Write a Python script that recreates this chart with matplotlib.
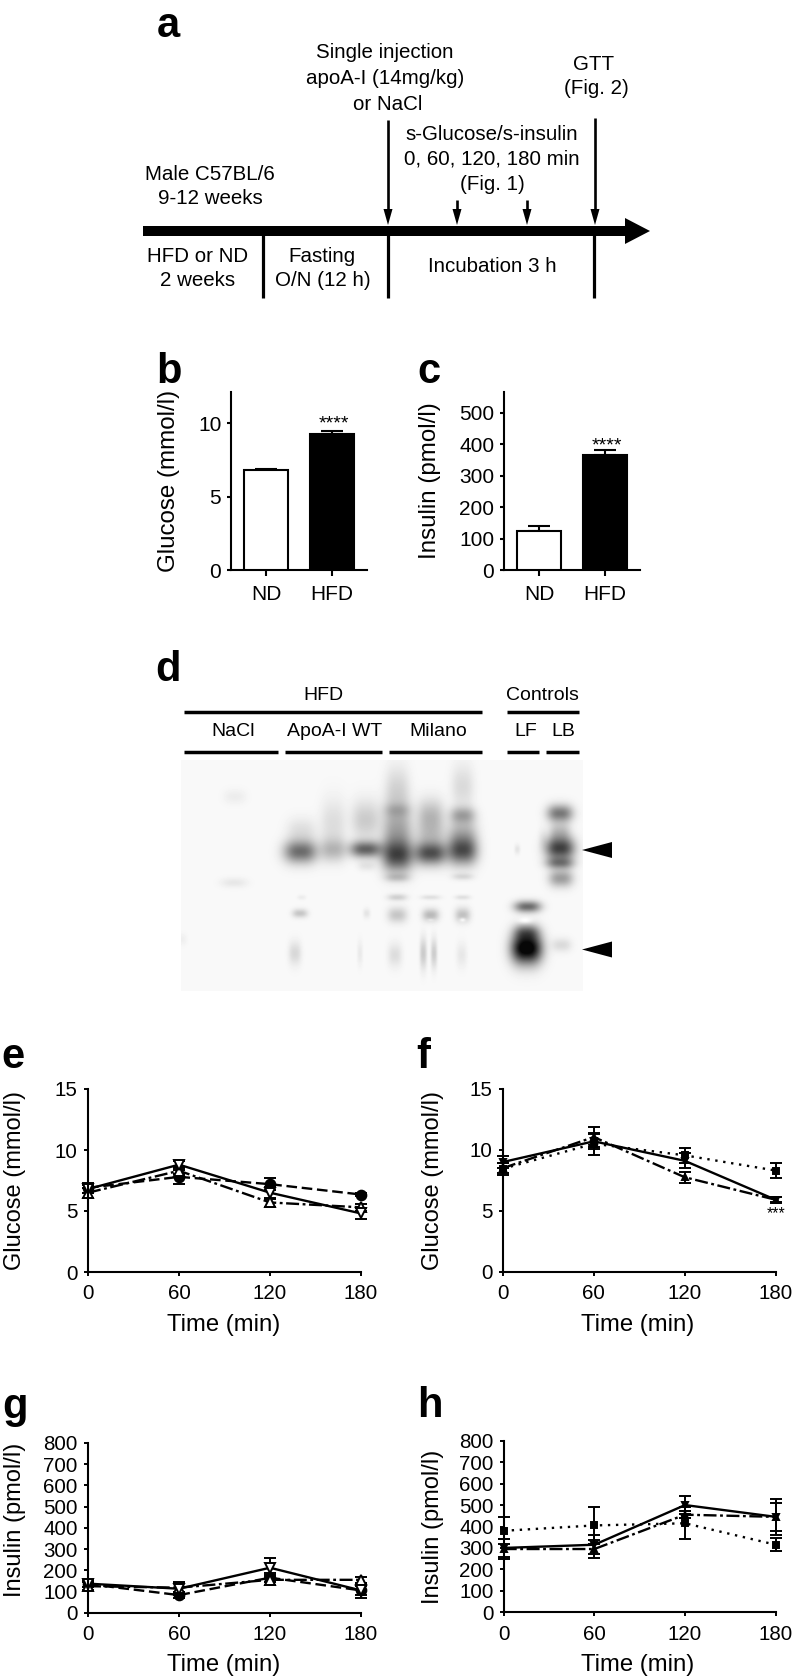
import numpy as np
import matplotlib
matplotlib.use("Agg")
import matplotlib.pyplot as plt
from matplotlib.patches import Polygon

plt.rcParams["font.family"] = ["Liberation Sans", "DejaVu Sans"]

W, H = 794, 1679

# bars
bar_labels = ["ND", "HFD"]
glucose_bar = [6.8, 9.3]
glucose_err = [0.1, 0.2]
insulin_bar = [126, 365]
insulin_err = [14, 17]

# time courses
times = [0, 60, 120, 180]
e_solid = [6.8, 8.8, 6.5, 4.8]
e_solid_err = [0.3, 0.3, 0.5, 0.45]
e_dash = [6.9, 7.8, 7.2, 6.35]
e_dash_err = [0.4, 0.6, 0.5, 0.1]
e_dashdot = [6.5, 8.3, 5.7, 5.3]
e_dashdot_err = [0.4, 0.3, 0.4, 0.3]

f_solid = [9.0, 10.7, 9.1, 5.9]
f_solid_err = [0.5, 0.6, 0.6, 0.25]
f_dashdot = [8.5, 11.05, 7.75, 5.9]
f_dashdot_err = [0.4, 0.8, 0.45, 0.2]
f_dot = [8.45, 10.5, 9.55, 8.3]
f_dot_err = [0.5, 0.9, 0.6, 0.65]

g_solid = [137, 113, 212, 105]
g_solid_err = [15, 30, 45, 35]
g_dash = [135, 83, 165, 105]
g_dash_err = [15, 15, 20, 20]
g_dashdot = [125, 118, 155, 155]
g_dashdot_err = [20, 20, 25, 15]

h_solid = [300, 315, 500, 445]
h_solid_err = [40, 45, 40, 85]
h_dashdot = [295, 295, 455, 445]
h_dashdot_err = [45, 40, 15, 65]
h_dot = [380, 405, 415, 315]
h_dot_err = [63, 85, 75, 30]

# blot bands: x, y, half width, half height, darkness (zoomed crop units)
blot_bands = [
    (225, 50, 32, 15, .05), (222, 308, 38, 10, .07), (65, 478, 15, 12, .04),
    (422, 215, 48, 24, .55), (425, 150, 42, 25, .10), (420, 400, 22, 9, .20),
    (405, 520, 18, 24, .13), (425, 352, 12, 5, .05),
    (520, 210, 36, 24, .24), (520, 130, 36, 50, .11),
    (617, 208, 45, 17, .58), (617, 120, 40, 40, .18), (620, 258, 25, 10, .08), (620, 400, 10, 10, .08), (600, 520, 8, 25, .06),
    (712, 228, 44, 32, .58), (712, 150, 42, 60, .33), (712, 90, 38, 14, .12), (712, 20, 34, 45, .12),
    (712, 293, 35, 9, .16), (712, 352, 28, 7, .16), (712, 405, 28, 16, .20), (705, 525, 20, 24, .11),
    (812, 220, 46, 24, .66), (812, 110, 38, 35, .26), (812, 165, 42, 25, .14), (812, 405, 24, 13, .25), (812, 352, 28, 5, .10), (790, 520, 10, 32, .18), (822, 520, 9, 30, .17),
    (908, 215, 42, 28, .58), (908, 105, 36, 17, .28), (908, 165, 42, 35, .28), (908, 20, 32, 45, .12), (908, 290, 30, 7, .12), (908, 352, 22, 5, .10), (908, 405, 22, 15, .22), (905, 525, 15, 25, .07),
    (1100, 505, 44, 32, 1.05), (1100, 455, 36, 16, .35), (1103, 380, 38, 12, .55), (1072, 208, 8, 10, .08),
    (1200, 205, 42, 24, .72), (1200, 100, 37, 18, .50), (1200, 250, 40, 12, .40), (1203, 295, 35, 18, .36), (1200, 155, 30, 20, .20), (1205, 495, 28, 14, .12), (1148, 175, 12, 22, .05),
]
blot_holes = [(1095, 420, 22, 9, .95), (908, 420, 9, 6, .8), (812, 420, 10, 4, .4)]

fig = plt.figure(figsize=(W / 100, H / 100), dpi=100)


def px_axes(left, right, top, bottom):
    ax = fig.add_axes([left / W, 1 - bottom / H, (right - left) / W, (bottom - top) / H])
    ax.set_facecolor("none")
    ax.spines["top"].set_visible(False)
    ax.spines["right"].set_visible(False)
    ax.spines["left"].set_linewidth(1.5)
    ax.spines["bottom"].set_linewidth(1.5)
    return ax


def set_labels(ax, box, ylabel, ylab_x, ylab_y, xlabel=None, xlab_y=None, xlab_x=None, ysize=17):
    left, right, top, bottom = box
    ax.set_ylabel(ylabel, fontsize=ysize, va="center")
    ax.yaxis.set_label_coords((ylab_x - left) / (right - left), (bottom - ylab_y) / (bottom - top))
    if xlabel:
        ax.set_xlabel(xlabel, fontsize=17.2, va="center")
        ax.xaxis.set_label_coords((xlab_x - left) / (right - left), (bottom - xlab_y) / (bottom - top))


def bar_panel(box, vals, errs, ylim, yticks, ylabel, ylab_x):
    ax = px_axes(*box)
    ax.bar([1, 2], vals, width=0.68, color=["white", "black"], edgecolor="black", linewidth=1.5, zorder=3)
    ax.errorbar([1, 2], vals, yerr=[[0, 0], errs], fmt="none", ecolor="black", elinewidth=1.5,
                capsize=8, capthick=1.5, zorder=2)
    ax.set_xlim(0.47, 2.53)
    ax.set_ylim(*ylim)
    ax.set_xticks([1, 2], bar_labels)
    ax.set_yticks(yticks)
    ax.tick_params(axis="y", length=3, width=1.5, labelsize=15, pad=4)
    ax.tick_params(axis="x", length=4.5, width=1.5, labelsize=15, pad=6)
    set_labels(ax, box, ylabel, ylab_x, 481, ysize=17.4)
    return ax


def line_panel(box, series, ylim, yticks, ylabel, ylab_x, ylab_y, xlab_x, xlab_y):
    ax = px_axes(*box)
    for vals, errs, ls, marker, ms, mfc in series:
        ax.errorbar(times, vals, yerr=errs, color="black", lw=1.7, ls=ls, marker=marker, ms=ms,
                    mfc=mfc, mec="black", mew=1.4, elinewidth=1.4, capsize=4, capthick=1.4, clip_on=False)
    ax.set_xlim(0, 180)
    ax.set_ylim(*ylim)
    ax.set_xticks(times)
    ax.set_yticks(yticks)
    ax.tick_params(axis="both", length=2.8, width=1.4, labelsize=14.8)
    ax.tick_params(axis="y", pad=4.5)
    ax.tick_params(axis="x", pad=6)
    set_labels(ax, box, ylabel, ylab_x, ylab_y, "Time (min)", xlab_y, xlab_x)
    return ax


DASH = (0, (4.5, 2))
DASHDOT = (0, (5.5, 1.5, 1.2, 1.5))
DOT = (0, (1, 2.4))

# panels b, c
bar_panel((231, 367, 392, 570.3), glucose_bar, glucose_err, (0, 12.13), [0, 5, 10], "Glucose (mmol/l)", 169)
bar_panel((504, 640, 392, 570.3), insulin_bar, insulin_err, (0, 566), [0, 100, 200, 300, 400, 500], "Insulin (pmol/l)", 430)

# panels e-h
line_panel((88, 361, 1089, 1272),
           [(e_dash, e_dash_err, DASH, "o", 7, "black"),
            (e_dashdot, e_dashdot_err, DASHDOT, "^", 7, "white"),
            (e_solid, e_solid_err, "-", "v", 7, "white")],
           (0, 15), [0, 5, 10, 15], "Glucose (mmol/l)", 15, 1180, 224, 1325)
line_panel((503, 775.5, 1089, 1271.5),
           [(f_dot, f_dot_err, DOT, "s", 5, "black"),
            (f_dashdot, f_dashdot_err, DASHDOT, "^", 4.5, "black"),
            (f_solid, f_solid_err, "-", "v", 4.5, "black")],
           (0, 15), [0, 5, 10, 15], "Glucose (mmol/l)", 433, 1180, 638, 1325)
line_panel((88, 361, 1443, 1612.7),
           [(g_dash, g_dash_err, DASH, "o", 7, "black"),
            (g_dashdot, g_dashdot_err, DASHDOT, "^", 7, "white"),
            (g_solid, g_solid_err, "-", "v", 7, "white")],
           (0, 800), range(0, 801, 100), "Insulin (pmol/l)", 15, 1520, 224, 1665)
line_panel((503.7, 775.7, 1440.7, 1612.3),
           [(h_dot, h_dot_err, DOT, "s", 5, "black"),
            (h_dashdot, h_dashdot_err, DASHDOT, "^", 4.5, "black"),
            (h_solid, h_solid_err, "-", "v", 4.5, "black")],
           (0, 800), range(0, 801, 100), "Insulin (pmol/l)", 433, 1527, 638, 1665)

# blot image
blot_left, blot_right, blot_top, blot_bottom = 181, 583, 760, 991
ax_blot = fig.add_axes([blot_left / W, 1 - blot_bottom / H, (blot_right - blot_left) / W, (blot_bottom - blot_top) / H])
yy, xx = np.mgrid[blot_top:blot_bottom, blot_left:blot_right] + 0.5
dark = np.full(xx.shape, 0.025)
for bx, by, sx, sy, amp in blot_bands:
    px, py = 160 + bx / 3, 780 + by / 3
    dark += amp * np.exp(-(np.abs(xx - px) / (sx / 3 * 1.05)) ** 2.6 - ((yy - py) / (sy / 3 * 1.45)) ** 2)
for bx, by, sx, sy, amp in blot_holes:
    px, py = 160 + bx / 3, 780 + by / 3
    dark *= 1 - amp * np.exp(-((xx - px) / (sx / 3)) ** 2 - ((yy - py) / (sy / 3)) ** 2)
ax_blot.imshow(1 - np.clip(dark, 0, 0.97), cmap="gray", vmin=0, vmax=1, aspect="auto", interpolation="bilinear")
ax_blot.axis("off")

# overlay in picture pixels for the schematic and letters
ov = fig.add_axes([0, 0, 1, 1], facecolor="none")
ov.set_xlim(0, W)
ov.set_ylim(H, 0)
ov.axis("off")

for letter, lx, ly in [("a", 157, 37), ("b", 156, 383), ("c", 417, 383), ("d", 155, 681),
                       ("e", 1, 1068), ("f", 416, 1068), ("g", 2, 1418), ("h", 417, 1417)]:
    ov.text(lx, ly, letter, fontsize=30, fontweight="bold", ha="left", va="baseline")

# timeline
ov.plot([143, 628], [231, 231], color="black", lw=7.2, solid_capstyle="butt")
ov.add_patch(Polygon([(625, 218), (650, 231), (625, 244)], closed=True, color="black", lw=0))
for tx in [263, 388, 594]:
    ov.plot([tx, tx], [231, 298], color="black", lw=2.3, solid_capstyle="butt")
for tx, y0 in [(388, 120), (595, 118), (457, 200), (527, 200)]:
    ov.plot([tx, tx], [y0, 212], color="black", lw=1.9, solid_capstyle="butt")
    ov.add_patch(Polygon([(tx - 4.5, 209), (tx, 225), (tx + 4.5, 209)], closed=True, color="black", lw=0))

schematic = [("Single injection", 385, 53), ("apoA-I (14mg/kg)", 385, 79), ("or NaCl", 388, 104),
             ("GTT", 594, 64), ("(Fig. 2)", 596, 89),
             ("s-Glucose/s-insulin", 492, 134), ("0, 60, 120, 180 min", 492, 159), ("(Fig. 1)", 492, 185),
             ("Male C57BL/6", 210, 174), ("9-12 weeks", 210, 199),
             ("HFD or ND", 198, 256), ("2 weeks", 198, 281),
             ("Fasting", 322, 256), ("O/N (12 h)", 323, 281), ("Incubation 3 h", 492, 267)]
for txt, tx, ty in schematic:
    ov.text(tx, ty, txt, fontsize=14.8, ha="center", va="center")

# blot header
for x0, x1, y in [(184, 482, 712), (507, 579, 712), (184, 278, 752), (285, 382, 752),
                  (389, 482, 752), (507, 539, 752), (546, 579, 752)]:
    ov.plot([x0, x1], [y, y], color="black", lw=2.5, solid_capstyle="butt")
for txt, tx, ty in [("HFD", 323, 696), ("Controls", 542, 696), ("NaCl", 233, 732), ("ApoA-I WT", 335, 732),
                    ("Milano", 438, 732), ("LF", 526, 732), ("LB", 563, 732)]:
    ov.text(tx, ty, txt, fontsize=14, ha="center", va="center")
for ty in [850, 949.5]:
    ov.add_patch(Polygon([(582, ty), (612, ty - 8), (612, ty + 8)], closed=True, color="black", lw=0))

# significance stars
ov.text(334, 424, "****", fontsize=14, ha="center", va="center")
ov.text(607, 446, "****", fontsize=14, ha="center", va="center")
ov.text(776, 1214, "***", fontsize=11.3, ha="center", va="center")

fig.savefig("out.png", dpi=100)
